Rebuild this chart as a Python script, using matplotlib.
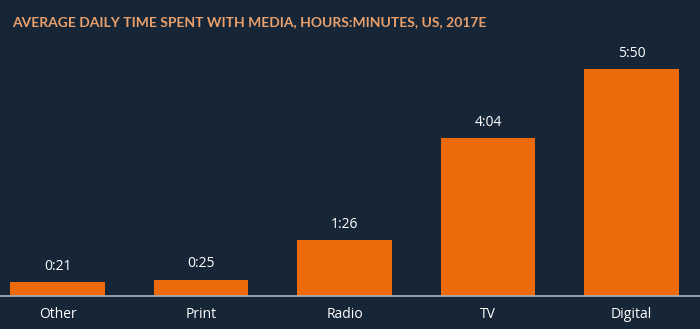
import matplotlib
matplotlib.use("Agg")
import matplotlib.pyplot as plt

categories = ["Other", "Print", "Radio", "TV", "Digital"]
minutes = [21, 25, 86, 244, 350]
value_labels = ["0:21", "0:25", "1:26", "4:04", "5:50"]
title = "AVERAGE DAILY TIME SPENT WITH MEDIA, HOURS:MINUTES, US, 2017E"

BG = "#172637"
BAR = "#ec6a0a"
TITLE_COLOR = "#e9a06c"

plt.rcParams["font.family"] = ["Open Sans", "DejaVu Sans"]

fig = plt.figure(figsize=(7, 3.29), dpi=100)
fig.patch.set_facecolor(BG)
ax = fig.add_axes([0, 0.1003, 1, 0.788])
ax.set_facecolor(BG)

x = range(len(categories))
bars = ax.bar(x, minutes, width=0.66, color=BAR, zorder=2)

for b, lab in zip(bars, value_labels):
    ax.annotate(lab, (b.get_x() + b.get_width() / 2, b.get_height()),
                xytext=(0, 6), textcoords="offset points",
                ha="center", va="bottom", color="white", fontsize=10)

ax.set_xlim(-0.401, 4.477)
ax.set_ylim(0, 400)
ax.set_xticks(list(x))
ax.set_xticklabels(categories, color="white", fontsize=10)
ax.tick_params(axis="x", length=0, pad=8)
ax.set_yticks([])
for s in ["top", "left", "right"]:
    ax.spines[s].set_visible(False)
ax.spines["bottom"].set_color("#a9b3bd")
ax.spines["bottom"].set_linewidth(1.2)

fig.text(12 / 700, 1 - 22 / 329, title, color=TITLE_COLOR, fontsize=10,
         fontweight="bold", family="Lato", ha="left", va="center")

fig.savefig("out.png", dpi=100, facecolor=BG)
